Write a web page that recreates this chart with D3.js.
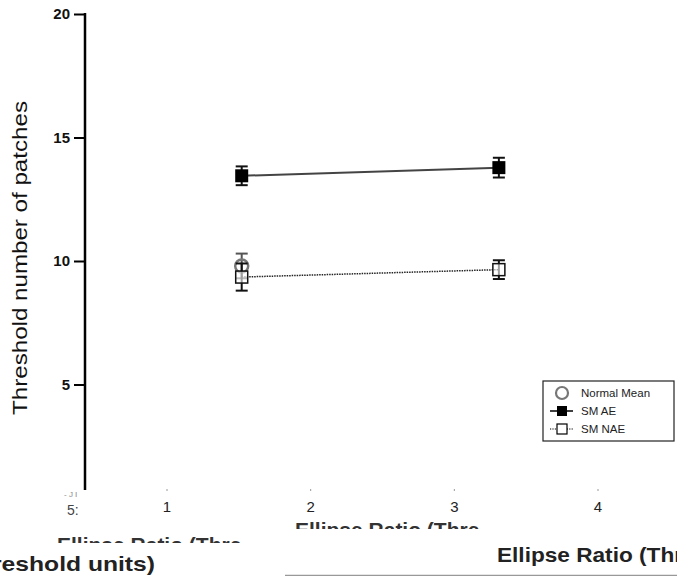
<!DOCTYPE html>
<html><head><meta charset="utf-8">
<script src="https://cdn.jsdelivr.net/npm/d3@7"></script>
<style>body{margin:0;background:#fff}svg{display:block;font-family:"Liberation Sans",Arial,sans-serif}</style>
</head><body>
<script>
const ratios = [1.52, 3.31];
const smAE = [13.45, 13.78];
const smAEerr = [0.38, 0.4];
const smNAE = [9.35, 9.65];
const smNAEerr = [0.55, 0.38];
const normalMean = [9.8];
const normalErr = [0.5];
const normalX = [1.52];
const yTicks = [5, 10, 15, 20];
const xTicks = [1, 2, 3, 4];
const legendLabels = ["Normal Mean", "SM AE", "SM NAE"];

const W = 677, H = 576;
const svg = d3.select("body").append("svg").attr("width", W).attr("height", H);
const x = d3.scaleLinear().domain([1, 4]).range([167, 598]);
const y = d3.scaleLinear().domain([0, 20]).range([508, 14]);
const axisX = 85;

// Y axis
const ya = svg.append("g").attr("transform", `translate(${axisX},0)`)
  .call(d3.axisLeft(y).tickValues(yTicks).tickSize(11).tickPadding(4));
ya.select(".domain").remove();
ya.selectAll(".tick line").attr("stroke", "#000").attr("stroke-width", 2);
ya.selectAll(".tick text").attr("font-size", 15).attr("font-weight", "bold").attr("fill", "#111")
  .attr("font-family", "Liberation Sans, Arial, sans-serif");
svg.append("line").attr("x1", axisX).attr("x2", axisX).attr("y1", y(20) - 1).attr("y2", 490)
  .attr("stroke", "#000").attr("stroke-width", 2.5);

svg.append("text").attr("transform", `translate(27,${258}) rotate(-90)`).attr("text-anchor", "middle")
  .attr("font-size", 21).attr("fill", "#111").attr("textLength", 314).attr("lengthAdjust", "spacingAndGlyphs")
  .text("Threshold number of patches");

// X tick labels (no axis line)
const xg = svg.append("g");
xTicks.forEach(t => {
  xg.append("rect").attr("x", x(t) - 0.5).attr("y", 489).attr("width", 1).attr("height", 2).attr("fill", "#999");
  xg.append("text").attr("x", x(t)).attr("y", 512).attr("text-anchor", "middle").attr("font-size", 15)
    .attr("fill", "#222").text(t);
});
// fragments near origin
svg.append("text").attr("x", 64).attr("y", 497).attr("font-size", 8).attr("fill", "#888").text("- J I");
svg.append("text").attr("x", 67).attr("y", 515).attr("font-size", 14).attr("fill", "#444").text("5:");

// clipped title fragments
const defs = svg.append("defs");
defs.append("clipPath").attr("id", "c1").append("rect").attr("x", 280).attr("y", 518).attr("width", 205).attr("height", 11);
defs.append("clipPath").attr("id", "c2").append("rect").attr("x", 40).attr("y", 533).attr("width", 245).attr("height", 10);
svg.append("text").attr("clip-path", "url(#c1)").attr("x", 295).attr("y", 537).attr("font-size", 21)
  .attr("font-weight", "bold").attr("fill", "#333").text("Ellipse Ratio (Thre");
svg.append("text").attr("clip-path", "url(#c2)").attr("x", 57).attr("y", 552).attr("font-size", 21)
  .attr("font-weight", "bold").attr("fill", "#333").text("Ellipse Ratio (Thre");
svg.append("text").attr("x", -8).attr("y", 571).attr("font-size", 21).attr("font-weight", "bold")
  .attr("fill", "#222").attr("textLength", 163).attr("lengthAdjust", "spacingAndGlyphs").text("reshold units)");
svg.append("text").attr("x", 497).attr("y", 562).attr("font-size", 21).attr("font-weight", "bold")
  .attr("fill", "#222").attr("textLength", 186).attr("lengthAdjust", "spacingAndGlyphs").text("Ellipse Ratio (Thr");
svg.append("line").attr("x1", 285).attr("x2", 677).attr("y1", 575.5).attr("y2", 575.5)
  .attr("stroke", "#999").attr("stroke-width", 1.5);

// lines
const line = d3.line().x(d => x(d[0])).y(d => y(d[1]));
svg.append("path").datum(ratios.map((r, i) => [r, smAE[i]])).attr("d", line)
  .attr("fill", "none").attr("stroke", "#444").attr("stroke-width", 2);
svg.append("path").datum(ratios.map((r, i) => [r, smNAE[i]])).attr("d", line)
  .attr("fill", "none").attr("stroke", "#222").attr("stroke-width", 1.5).attr("stroke-dasharray", "1.5,1");

function errBar(cx, v, e, col) {
  const g = svg.append("g").attr("stroke", col).attr("stroke-width", 2);
  g.append("line").attr("x1", x(cx)).attr("x2", x(cx)).attr("y1", y(v + e)).attr("y2", y(v - e));
  [v + e, v - e].forEach(b => g.append("line").attr("x1", x(cx) - 6).attr("x2", x(cx) + 6).attr("y1", y(b)).attr("y2", y(b)));
}
// Normal mean
normalX.forEach((r, i) => {
  errBar(r, normalMean[i], normalErr[i], "#555");
  svg.append("circle").attr("cx", x(r)).attr("cy", y(normalMean[i])).attr("r", 6.5)
    .attr("fill", "none").attr("stroke", "#777").attr("stroke-width", 2.5);
});
ratios.forEach((r, i) => {
  errBar(r, smNAE[i], smNAEerr[i], "#111");
  svg.append("rect").attr("x", x(r) - 6).attr("y", y(smNAE[i]) - 6).attr("width", 12).attr("height", 12)
    .attr("fill", "#fff").attr("fill-opacity", 0.6).attr("stroke", "#111").attr("stroke-width", 1.5);
});
ratios.forEach((r, i) => {
  errBar(r, smAE[i], smAEerr[i], "#111");
  svg.append("rect").attr("x", x(r) - 6.5).attr("y", y(smAE[i]) - 6.5).attr("width", 13).attr("height", 13)
    .attr("fill", "#000");
});

// legend
const lg = svg.append("g").attr("transform", "translate(543,381)");
lg.append("rect").attr("width", 131).attr("height", 60).attr("fill", "#fff").attr("stroke", "#222").attr("stroke-width", 1.2);
lg.append("circle").attr("cx", 19).attr("cy", 12).attr("r", 6).attr("fill", "none").attr("stroke", "#777").attr("stroke-width", 2.2);
lg.append("line").attr("x1", 7).attr("x2", 30).attr("y1", 30).attr("y2", 30).attr("stroke", "#000").attr("stroke-width", 1.5);
lg.append("rect").attr("x", 14).attr("y", 25).attr("width", 10).attr("height", 10).attr("fill", "#000");
lg.append("line").attr("x1", 7).attr("x2", 30).attr("y1", 48).attr("y2", 48).attr("stroke", "#000").attr("stroke-width", 1.2).attr("stroke-dasharray", "1.2,1.2");
lg.append("rect").attr("x", 14).attr("y", 43).attr("width", 10).attr("height", 10).attr("fill", "#fff").attr("stroke", "#000").attr("stroke-width", 1.2);
legendLabels.forEach((t, i) => lg.append("text").attr("x", 38).attr("y", 16 + i * 18).attr("font-size", 11.5)
  .attr("fill", "#222").text(t));
</script>
</body></html>
